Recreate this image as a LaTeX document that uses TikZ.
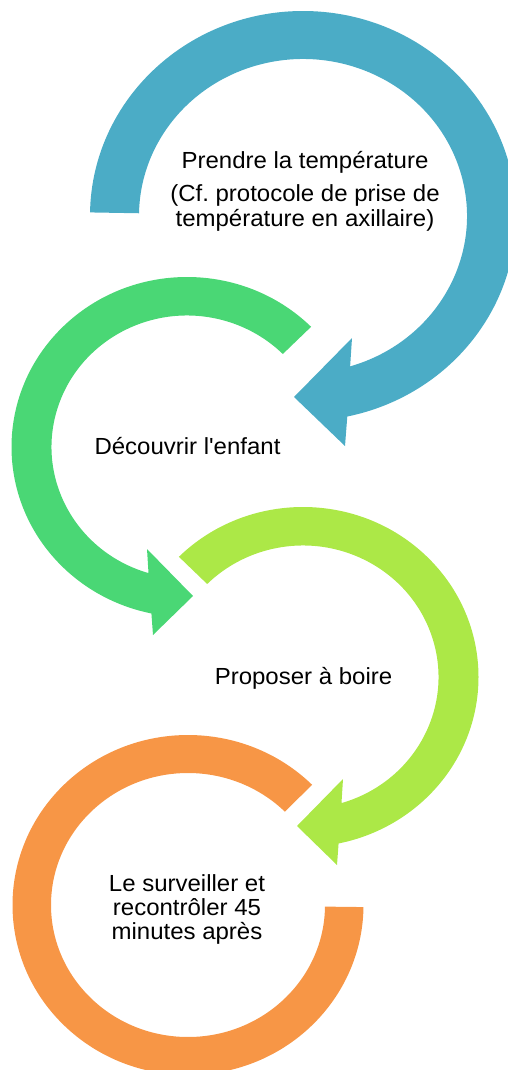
\documentclass[tikz,border=0pt]{standalone}
\usepackage{fontspec}
\setmainfont{Liberation Sans}
\setmonofont{Liberation Sans}
\definecolor{cblue}{HTML}{4BACC6}
\definecolor{cgreen}{HTML}{4AD775}
\definecolor{clime}{HTML}{ACE847}
\definecolor{corange}{HTML}{F79646}
\tikzset{lbl/.style={anchor=base, inner sep=0pt, text=black, font=\ttfamily\fontsize{23.3}{24.5}\selectfont}}
\newcommand{\wtxt}[1]{\scalebox{1.03}[1]{#1}}
\begin{document}
\begin{tikzpicture}[x=1pt,y=-1pt]
\useasboundingbox (0,0) rectangle (508,1070);
% blue arrow
\begin{scope}[shift={(303,216)}]
\fill[cblue] (181:213 and 205) arc[start angle=181,end angle=438,x radius=213,y radius=205]
  -- (42,230) -- (-9,181) -- (49,122) -- (433.3:164 and 157)
  arc[start angle=433.3,end angle=181,x radius=164,y radius=157] -- cycle;
\end{scope}
% green arrow
\begin{scope}[shift={(187,447)}]
\fill[cgreen] (315:175.5 and 170) arc[start angle=315,end angle=101.7,x radius=175.5,y radius=170]
  -- (-34,188) -- (6,149) -- (-40,102) -- (106.5:135.5 and 131.5)
  arc[start angle=106.5,end angle=315,x radius=135.5,y radius=131.5] -- cycle;
\end{scope}
% lime arrow
\begin{scope}[shift={(303,677)}]
\fill[clime] (225:175.5 and 170) arc[start angle=225,end angle=438.3,x radius=175.5,y radius=170]
  -- (34,188) -- (-6,149) -- (40,102) -- (433.5:135.5 and 131.5)
  arc[start angle=433.5,end angle=225,x radius=135.5,y radius=131.5] -- cycle;
\end{scope}
% orange arc
\begin{scope}[shift={(188,905)}]
\fill[corange] (315:175.5 and 170) arc[start angle=315,end angle=0.7,x radius=175.5,y radius=170]
  -- (0.7:137 and 132)
  arc[start angle=0.7,end angle=315,x radius=137,y radius=132] -- cycle;
\end{scope}
% texts
\node[lbl] (t1a) at (305,168) {\wtxt{Prendre la température}};
\node[lbl] (t1b) at (305,201) {\wtxt{(Cf. protocole de prise de}};
\node[lbl] (t1c) at (305,226) {\wtxt{température en axillaire)}};
\node[lbl] (t2) at (187.5,454) {\wtxt{Découvrir l'enfant}};
\node[lbl] (t3) at (303.5,684) {\wtxt{Proposer à boire}};
\node[lbl] (t4a) at (187,891) {\wtxt{Le surveiller et}};
\node[lbl] (t4b) at (187,915) {\wtxt{recontrôler 45}};
\node[lbl] (t4c) at (187,939) {\wtxt{minutes après}};
\end{tikzpicture}
\end{document}
